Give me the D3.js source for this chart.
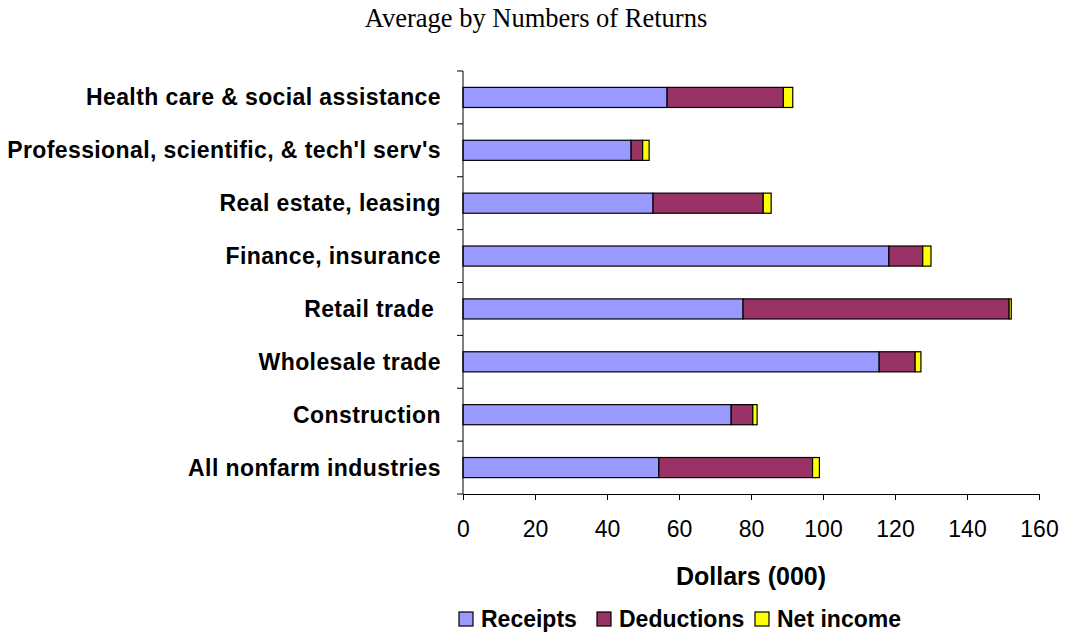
<!DOCTYPE html>
<html>
<head>
<meta charset="utf-8">
<script src="https://cdn.jsdelivr.net/npm/d3@7"></script>
<style>
  body { margin: 0; background: #fff; }
  .tick text { font-family: Arial, "Liberation Sans", sans-serif; }
</style>
</head>
<body>
<div class="chart"></div>
<script>
// data, top row first
var categories = [
  'Health care & social assistance',
  "Professional, scientific, & tech'l serv's",
  'Real estate, leasing',
  'Finance, insurance',
  'Retail trade ',
  'Wholesale trade',
  'Construction',
  'All nonfarm industries'
];
var receipts   = [56.7, 46.7, 52.8, 118.3, 77.8, 115.6, 74.5, 54.4];
var deductions = [32.3, 3.2, 30.6, 9.4, 73.9, 10.0, 6.0, 42.7];
var netIncome  = [2.6, 1.8, 2.2, 2.3, 0.6, 1.6, 1.2, 1.9];
var seriesNames = ['Receipts', 'Deductions', 'Net income'];
var xTicks = [0, 20, 40, 60, 80, 100, 120, 140, 160];

var colors = ['#9999ff', '#993366', '#ffff00'];

var margin = { top: 71, right: 27, bottom: 139, left: 463 };
var width = 1066 - margin.left - margin.right;
var height = 633 - margin.top - margin.bottom;

var root = d3.select('.chart')
  .append('svg')
    .attr('width', 1066)
    .attr('height', 633);

root.append('text')
  .attr('x', 536)
  .attr('y', 27)
  .attr('text-anchor', 'middle')
  .style('font-family', '"Liberation Serif", "Times New Roman", serif')
  .style('font-size', '26.5px')
  .text('Average by Numbers of Returns');

var svg = root.append('g')
  .attr('transform', `translate(${margin.left}, ${margin.top})`);

var xScale = d3.scaleLinear()
  .domain([0, 160])
  .range([0, width]);

var yScale = d3.scaleBand()
  .domain(categories)
  .range([0, height])
  .paddingInner(0.62)
  .paddingOuter(0.31);

// stack the three series
var rows = categories.map((c, i) => ({
  cat: c, Receipts: receipts[i], Deductions: deductions[i], 'Net income': netIncome[i]
}));
var stacked = d3.stack().keys(seriesNames)(rows);

svg.selectAll('g.series')
  .data(stacked)
  .enter()
  .append('g')
    .attr('class', 'series')
    .attr('fill', (d, i) => colors[i])
  .selectAll('rect')
  .data(d => d)
  .enter()
  .append('rect')
    .attr('x', d => xScale(d[0]))
    .attr('y', d => yScale(d.data.cat))
    .attr('width', d => xScale(d[1]) - xScale(d[0]))
    .attr('height', yScale.bandwidth())
    .attr('stroke', '#000')
    .attr('stroke-width', 1.2);

// y axis: ticks at category boundaries
var step = yScale.step();
var boundaries = d3.range(categories.length + 1).map(i => i * step);
svg.append('line')
  .attr('x1', 0).attr('x2', 0)
  .attr('y1', 0).attr('y2', height)
  .attr('stroke', '#000');
svg.selectAll('line.ytick')
  .data(boundaries)
  .enter()
  .append('line')
    .attr('class', 'ytick')
    .attr('x1', -6).attr('x2', 0)
    .attr('y1', d => d).attr('y2', d => d)
    .attr('stroke', '#000');

svg.selectAll('text.cat')
  .data(categories)
  .enter()
  .append('text')
    .attr('class', 'cat')
    .attr('x', -22)
    .attr('y', d => yScale(d) + yScale.bandwidth() / 2)
    .attr('dy', '0.35em')
    .attr('text-anchor', 'end')
    .style('font-family', 'Arial, "Liberation Sans", sans-serif')
    .style('font-weight', 'bold')
    .style('font-size', '23px')
    .style('letter-spacing', '0.4px')
    .style('white-space', 'pre')
    .text(d => d);

// x axis
var xAxis = d3.axisBottom(xScale)
  .tickValues(xTicks)
  .tickSize(6)
  .tickPadding(21)
  .tickSizeOuter(0);

var gx = svg.append('g')
  .attr('transform', `translate(0, ${height})`)
  .call(xAxis);
gx.select('.domain').attr('stroke', '#000');
gx.selectAll('.tick line').attr('stroke', '#000');
gx.selectAll('text').style('font-size', '23px').attr('fill', '#000');

svg.append('text')
  .attr('x', width / 2)
  .attr('y', height + 91)
  .attr('text-anchor', 'middle')
  .style('font-family', 'Arial, "Liberation Sans", sans-serif')
  .style('font-weight', 'bold')
  .style('font-size', '25px')
  .text('Dollars (000)');

// legend
var legendX = [459, 597, 755];
var legend = root.selectAll('g.legend')
  .data(seriesNames)
  .enter()
  .append('g')
    .attr('class', 'legend')
    .attr('transform', (d, i) => `translate(${legendX[i]}, 612)`);
legend.append('rect')
  .attr('width', 14).attr('height', 14)
  .attr('fill', (d, i) => colors[i])
  .attr('stroke', '#000')
  .attr('stroke-width', 1.2);
legend.append('text')
  .attr('x', 22)
  .attr('y', 15)
  .style('font-family', 'Arial, "Liberation Sans", sans-serif')
  .style('font-weight', 'bold')
  .style('font-size', '23px')
  .text(d => d);
</script>
</body>
</html>
